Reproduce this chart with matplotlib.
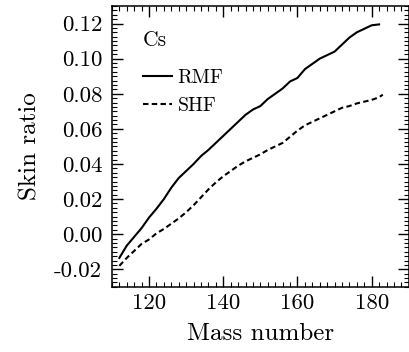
import matplotlib
matplotlib.use('Agg')
import matplotlib.pyplot as plt
from matplotlib.ticker import MultipleLocator, FuncFormatter
import numpy as np

plt.rcParams['font.family'] = 'serif'
plt.rcParams['font.serif'] = ['cmr10']
plt.rcParams['mathtext.fontset'] = 'cm'
plt.rcParams['axes.unicode_minus'] = False

# mass numbers and skin ratios
mass_rmf = [112, 114, 116, 118, 120, 122, 124, 126, 128, 130, 132, 134, 136, 138,
            140, 142, 144, 146, 148, 150, 152, 154, 156, 158, 160, 162, 164, 166,
            168, 170, 172, 174, 176, 178, 180, 182]
skin_rmf = [-0.0135, -0.0065, -0.0015, 0.0035, 0.0095, 0.0145, 0.020, 0.0265, 0.032,
            0.036, 0.040, 0.0445, 0.048, 0.052, 0.056, 0.060, 0.064, 0.068, 0.071,
            0.073, 0.077, 0.080, 0.083, 0.087, 0.089, 0.094, 0.097, 0.100, 0.102,
            0.104, 0.108, 0.112, 0.115, 0.117, 0.119, 0.1195]

mass_shf = [112, 114, 116, 118, 120, 122, 124, 126, 128, 130, 132, 134, 136, 138,
            140, 142, 144, 146, 148, 150, 152, 154, 156, 158, 160, 162, 164, 166,
            168, 170, 172, 174, 176, 178, 180, 182, 183]
skin_shf = [-0.018, -0.0135, -0.0095, -0.0055, -0.003, 0.0005, 0.003, 0.006, 0.009,
            0.0125, 0.0165, 0.021, 0.0255, 0.0295, 0.033, 0.036, 0.039, 0.0415,
            0.0435, 0.0455, 0.048, 0.050, 0.052, 0.0555, 0.059, 0.062, 0.064, 0.066,
            0.068, 0.070, 0.072, 0.073, 0.0745, 0.0755, 0.0765, 0.078, 0.0795]

fig = plt.figure(figsize=(4.10, 3.52), dpi=100)
ax = fig.add_axes([0.273, 0.185, 0.724, 0.798])

ax.plot(mass_rmf, skin_rmf, color='black', lw=1.5, label='RMF')
ax.plot(mass_shf, skin_shf, color='black', lw=1.5, linestyle=(0, (2.6, 1.6)), label='SHF')

ax.set_xlim(110, 190)
ax.set_ylim(-0.03, 0.13)
ax.xaxis.set_major_locator(MultipleLocator(20))
ax.xaxis.set_minor_locator(MultipleLocator(2))
ax.yaxis.set_major_locator(MultipleLocator(0.02))
ax.yaxis.set_minor_locator(MultipleLocator(0.0025))
ax.xaxis.set_major_formatter(FuncFormatter(lambda v, p: '%d' % round(v)))
ax.yaxis.set_major_formatter(FuncFormatter(lambda v, p: '%.2f' % (round(v, 3) + 0.0)))

ax.tick_params(which='both', direction='in', top=True, right=True, width=1.0)
ax.tick_params(which='major', length=8, labelsize=16.5)
ax.tick_params(axis='y', which='major', pad=7)
ax.tick_params(axis='x', which='major', pad=5)
ax.tick_params(which='minor', length=3.5, width=0.8)
for s in ax.spines.values():
    s.set_linewidth(1.1)

ax.set_xlabel('Mass number', fontsize=18, labelpad=7)
ax.set_ylabel('Skin ratio', fontsize=18, labelpad=9)

ax.text(0.104, 0.879, 'Cs', transform=ax.transAxes, fontsize=15.5, va='center', ha='left')
leg = ax.legend(loc='upper left', bbox_to_anchor=(0.104, 0.776), frameon=False,
                fontsize=14.3, handlelength=1.46, handletextpad=0.3, labelspacing=0.52,
                borderaxespad=0, borderpad=0)

fig.savefig('out.png', dpi=100)
